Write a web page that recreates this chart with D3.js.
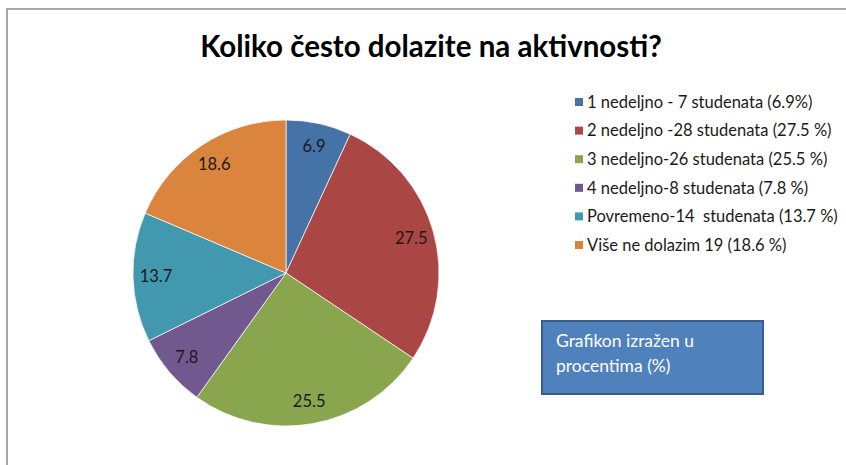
<!DOCTYPE html>
<html>
<head>
<meta charset="utf-8">
<script src="https://cdn.jsdelivr.net/npm/d3@7/dist/d3.min.js"></script>
<style>
  body { margin: 0; background: #fff; }
  svg { display: block; }
  text { white-space: pre; }
</style>
</head>
<body>
<div id="container"></div>
<script>
const width = 846;
const height = 465;

// podaci
const categories = [
  "1 nedeljno - 7 studenata (6.9%)",
  "2 nedeljno -28 studenata (27.5 %)",
  "3 nedeljno-26 studenata (25.5 %)",
  "4 nedeljno-8 studenata (7.8 %)",
  "Povremeno-14  studenata (13.7 %)",
  "Više ne dolazim 19 (18.6 %)"
];
const values = [6.9, 27.5, 25.5, 7.8, 13.7, 18.6];
const colors = ["#4572a7", "#aa4643", "#89a54e", "#71588f", "#4198af", "#db843d"];
const title = "Koliko često dolazite na aktivnosti?";
const noteLines = ["Grafikon izražen u", "procentima (%)"];

const font = "Lato, 'Open Sans', sans-serif";

const cx = 286, cy = 273, radius = 153;

const svg = d3.create("svg")
  .attr("width", width)
  .attr("height", height)
  .style("font-family", font);

// okvir
svg.append("path")
  .attr("d", `M7,${height + 5} V9 H${width + 5}`)
  .attr("fill", "none")
  .attr("stroke", "#a6a6a6")
  .attr("stroke-width", 2);

svg.append("text")
  .attr("x", 431)
  .attr("y", 57)
  .attr("text-anchor", "middle")
  .attr("font-size", 29.5)
  .attr("font-weight", "bold")
  .attr("fill", "#000")
  .text(title);

const data = values.map((v, i) => ({ name: categories[i], value: v, color: colors[i] }));

const pie = d3.pie().value(d => d.value).sort(null);
const arc = d3.arc().innerRadius(0).outerRadius(radius);
const labelArc = d3.arc().innerRadius(radius * 0.85).outerRadius(radius * 0.85);

const g = svg.append("g").attr("transform", `translate(${cx},${cy})`);

const arcs = pie(data);

g.selectAll("path.slice")
  .data(arcs)
  .enter()
  .append("path")
  .attr("class", "slice")
  .attr("d", arc)
  .attr("fill", d => d.data.color)
  .attr("stroke", "#fff")
  .attr("stroke-width", 0.7);

g.selectAll("text.lbl")
  .data(arcs)
  .enter()
  .append("text")
  .attr("class", "lbl")
  .attr("transform", d => `translate(${labelArc.centroid(d)})`)
  .attr("text-anchor", "middle")
  .attr("dy", "0.35em")
  .attr("font-size", 16.5)
  .attr("fill", "#1a1a1a")
  .text(d => d.data.value);

// legenda
const legend = svg.append("g").attr("transform", "translate(575,102)");
const rowH = 28.6;

const item = legend.selectAll("g")
  .data(data)
  .enter()
  .append("g")
  .attr("transform", (d, i) => `translate(0,${i * rowH})`);

item.append("rect")
  .attr("x", 0)
  .attr("y", -4)
  .attr("width", 8)
  .attr("height", 8)
  .attr("fill", d => d.color);

item.append("text")
  .attr("x", 12)
  .attr("dy", "0.35em")
  .attr("font-size", 16.5)
  .attr("fill", "#1a1a1a")
  .text(d => d.name);

// napomena
const note = svg.append("g").attr("transform", "translate(542,321)");
note.append("rect")
  .attr("width", 221)
  .attr("height", 73)
  .attr("fill", "#4f81bd")
  .attr("stroke", "#385d8a")
  .attr("stroke-width", 2);

note.selectAll("text")
  .data(noteLines)
  .enter()
  .append("text")
  .attr("x", 14)
  .attr("y", (d, i) => 26 + i * 25)
  .attr("font-size", 17.5)
  .attr("fill", "#fff")
  .text(d => d);

document.getElementById("container").append(svg.node());
</script>
</body>
</html>
